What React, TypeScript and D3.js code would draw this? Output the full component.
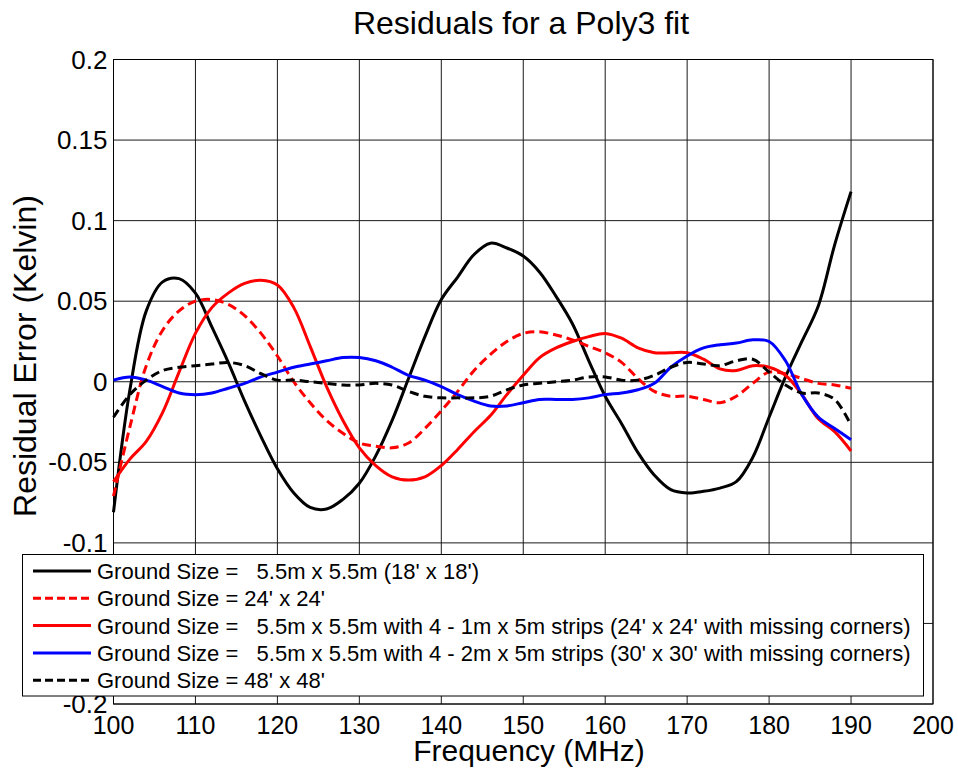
import React from 'react';
import * as d3 from 'd3';

// frequency samples (MHz), every 2 MHz
const freqs = d3.range(100, 191, 2);

const ground55 = [
  -0.081, -0.005, 0.044, 0.062, 0.064, 0.055, 0.034, 0.012, -0.012, -0.034,
  -0.054, -0.069, -0.078, -0.079, -0.073, -0.063, -0.046, -0.024, 0.002, 0.028,
  0.051, 0.065, 0.079, 0.086, 0.083, 0.078, 0.068, 0.053, 0.036, 0.013,
  -0.009, -0.026, -0.044, -0.058, -0.067, -0.069, -0.068, -0.066, -0.062, -0.047,
  -0.022, 0.003, 0.025, 0.047, 0.085, 0.118,
];
const ground24 = [
  -0.071, -0.028, 0.01, 0.032, 0.044, 0.05, 0.051, 0.048, 0.041, 0.03,
  0.016, 0.0, -0.013, -0.024, -0.032, -0.038, -0.04, -0.041, -0.038, -0.029,
  -0.018, -0.006, 0.007, 0.017, 0.025, 0.03, 0.031, 0.029, 0.026, 0.022,
  0.018, 0.012, 0.002, -0.006, -0.009, -0.009, -0.011, -0.013, -0.009, -0.001,
  0.006, 0.005, 0.002, -0.001, -0.002, -0.004,
];
const strips1m = [
  -0.062, -0.048, -0.037, -0.019, 0.006, 0.03, 0.046, 0.055, 0.061, 0.063,
  0.06, 0.046, 0.022, -0.003, -0.024, -0.041, -0.052, -0.059, -0.061, -0.059,
  -0.052, -0.042, -0.031, -0.021, -0.008, 0.004, 0.015, 0.021, 0.025, 0.028,
  0.03, 0.027, 0.021, 0.018, 0.018, 0.018, 0.014, 0.008, 0.007, 0.01,
  0.009, 0.004, -0.008, -0.023, -0.031, -0.043,
];
const strips2m = [
  0.001, 0.003, 0.001, -0.003, -0.007, -0.008, -0.007, -0.004, -0.001, 0.003,
  0.006, 0.009, 0.011, 0.013, 0.015, 0.015, 0.013, 0.009, 0.004, 0.001,
  -0.003, -0.008, -0.012, -0.015, -0.015, -0.013, -0.011, -0.011, -0.011, -0.01,
  -0.008, -0.007, -0.005, -0.001, 0.009, 0.016, 0.021, 0.023, 0.024, 0.026,
  0.025, 0.013, -0.008, -0.022, -0.029, -0.036,
];
const ground48 = [
  -0.022, -0.008, 0.001, 0.007, 0.009, 0.01, 0.011, 0.012, 0.01, 0.005,
  0.001, 0.001, 0.0, -0.001, -0.002, -0.002, -0.001, -0.002, -0.006, -0.009,
  -0.01, -0.01, -0.01, -0.009, -0.005, -0.002, -0.001, 0.0, 0.001, 0.003,
  0.003, 0.001, 0.001, 0.004, 0.009, 0.012, 0.011, 0.01, 0.013, 0.014,
  0.006, -0.002, -0.007, -0.007, -0.011, -0.027,
];

const xTicks = d3.range(100, 201, 10);
const yTicks = [0.2, 0.15, 0.1, 0.05, 0, -0.05, -0.1, -0.15, -0.2];
const yTickLabels = ['0.2', '0.15', '0.1', '0.05', '0', '-0.05', '-0.1', '-0.15', '-0.2'];

const seriesNames = [
  "Ground Size =   5.5m x 5.5m (18' x 18')",
  "Ground Size = 24' x 24'",
  "Ground Size =   5.5m x 5.5m with 4 - 1m x 5m strips (24' x 24' with missing corners)",
  "Ground Size =   5.5m x 5.5m with 4 - 2m x 5m strips (30' x 30' with missing corners)",
  "Ground Size = 48' x 48'",
];
const seriesValues = [ground55, ground24, strips1m, strips2m, ground48];
const seriesColors = ['#000000', '#ff0000', '#ff0000', '#0000ff', '#000000'];
const seriesDashed = [false, true, false, false, true];

const W = 958;
const H = 771;
const plot = { left: 113.5, right: 933, top: 59.5, bottom: 704 };
const font = 'Liberation Sans, Arial, Helvetica, sans-serif';

const App = () => {
  const x = d3.scaleLinear().domain([100, 200]).range([plot.left, plot.right]);
  const y = d3.scaleLinear().domain([-0.2, 0.2]).range([plot.bottom, plot.top]);

  const line = d3
    .line<number>()
    .x((_, i) => x(freqs[i]))
    .y((d) => y(d))
    .curve(d3.curveCatmullRom.alpha(0.5));

  // legend box
  const lg = { x: 22.5, y: 554.5, w: 901, h: 141.5 };
  const rowY = (i: number) => 571 + i * 27.3;

  return (
    <svg
      width={W}
      height={H}
      style={{ position: 'absolute', left: 0, top: 0, background: '#fff' }}
      fontFamily={font}
    >
      <rect x={0} y={0} width={W} height={H} fill="#fff" />

      {/* grid */}
      <g stroke="#1a1a1a" strokeWidth={1}>
        {xTicks.map((t) => (
          <line key={'gx' + t} x1={x(t)} x2={x(t)} y1={plot.top} y2={plot.bottom} />
        ))}
        {yTicks.map((t) => (
          <line key={'gy' + t} x1={plot.left} x2={plot.right} y1={y(t)} y2={y(t)} />
        ))}
      </g>
      <rect
        x={plot.left}
        y={plot.top}
        width={plot.right - plot.left}
        height={plot.bottom - plot.top}
        fill="none"
        stroke="#000"
        strokeWidth={1}
      />

      {/* tick labels */}
      <g fill="#000">
        {xTicks.map((t) => (
          <text key={'tx' + t} x={x(t)} y={734} textAnchor="middle" fontSize={25}>
            {t}
          </text>
        ))}
        {yTicks.map((t, i) => (
          <text key={'ty' + t} x={107.5} y={y(t) + 9} textAnchor="end" fontSize={26}>
            {yTickLabels[i]}
          </text>
        ))}
      </g>

      {/* curves */}
      <g fill="none" strokeWidth={3} strokeLinejoin="round">
        {seriesValues.map((vals, i) => (
          <path
            key={'s' + i}
            d={line(vals) || ''}
            stroke={seriesColors[i]}
            strokeDasharray={seriesDashed[i] ? '9,5' : undefined}
          />
        ))}
      </g>

      {/* titles */}
      <text x={521} y={34} textAnchor="middle" fontSize={32}>
        Residuals for a Poly3 fit
      </text>
      <text x={529} y={761} textAnchor="middle" fontSize={30}>
        Frequency (MHz)
      </text>
      <text
        transform={`translate(36,356) rotate(-90)`}
        textAnchor="middle"
        fontSize={32}
      >
        Residual Error (Kelvin)
      </text>

      {/* legend */}
      <rect x={lg.x} y={lg.y} width={lg.w} height={lg.h} fill="#fff" stroke="#000" strokeWidth={1} />
      {seriesNames.map((name, i) => (
        <g key={'l' + i}>
          <line
            x1={33}
            x2={91}
            y1={rowY(i)}
            y2={rowY(i)}
            stroke={seriesColors[i]}
            strokeWidth={3}
            strokeDasharray={seriesDashed[i] ? '8,4' : undefined}
          />
          <text x={97} y={rowY(i) + 8} fontSize={22} style={{ whiteSpace: 'pre' }}>
            {name}
          </text>
        </g>
      ))}
    </svg>
  );
};

export default App;
